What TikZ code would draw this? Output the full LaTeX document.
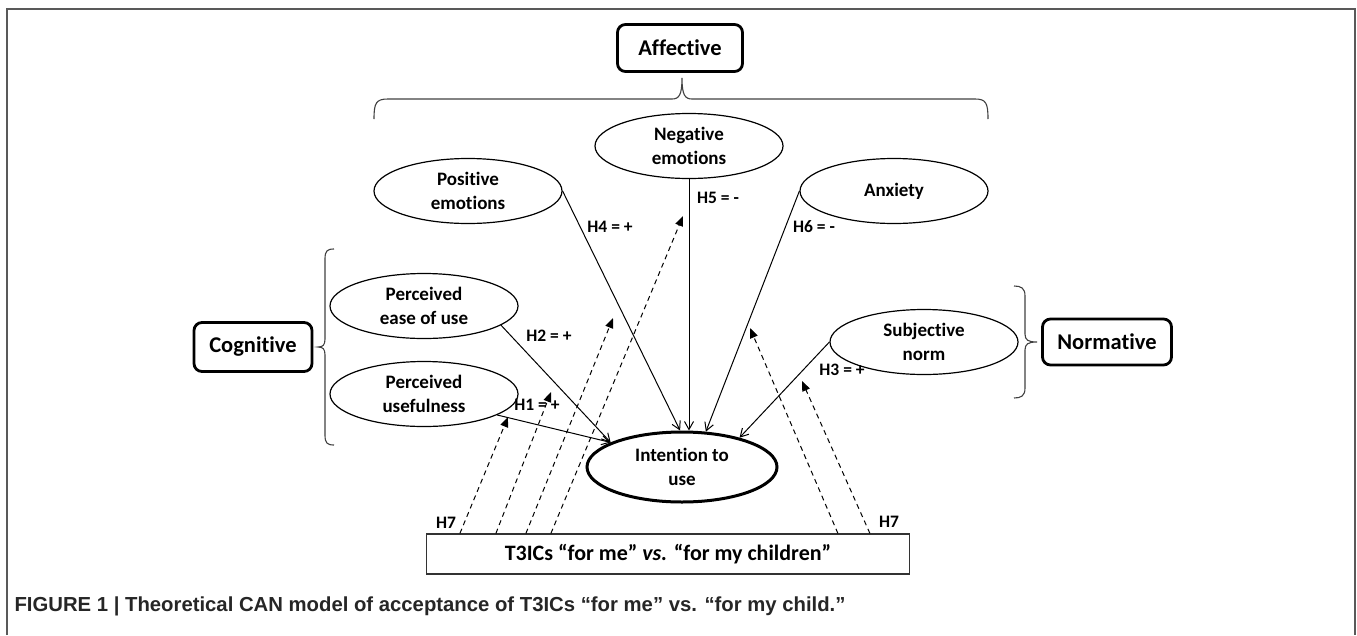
\documentclass[tikz,border=0pt]{standalone}
\usepackage{fontspec}
\setmainfont{Carlito}[Ligatures=NoCommon]
\newfontfamily\capfont{Liberation Sans}
\usetikzlibrary{arrows.meta,shapes.geometric}

\begin{document}
\begin{tikzpicture}[x=1pt,y=-1pt,
    construct/.style={draw,ellipse,line width=1.2pt,minimum width=188pt,minimum height=65pt,inner sep=0pt,align=center,font=\fontsize{19}{23.5}\selectfont\bfseries},
    groupbox/.style={draw,rounded corners=8pt,line width=2.8pt,inner sep=0pt,font=\fontsize{22.5}{26}\selectfont\bfseries},
    hyp/.style={font=\fontsize{17.5}{20}\selectfont\bfseries},
    effect/.style={line width=1pt,-{Straight Barb[length=8pt,width=9pt]}},
    moder/.style={line width=1pt,dash pattern=on 5pt off 4pt,-{Triangle[length=10pt,width=8pt]}},
    bracket/.style={line width=1.1pt,black!75}]
    \useasboundingbox (0,0) rectangle (1357,635);

    % Frame
    \draw[black!65,line width=1.5pt] (7,635) -- (7,9) -- (1355,9) -- (1355,635);

    % Groups
    \node[groupbox,minimum width=125pt,minimum height=47pt] (aff) at (680,48) {Affective};
    \node[groupbox,minimum width=118pt,minimum height=49pt] (cog) at (253,347) {Cognitive};
    \node[groupbox,minimum width=129pt,minimum height=46pt] (norm) at (1107,342) {Normative};

    % Braces
    \draw[bracket] (374,119) .. controls (374,103) and (376,99) .. (388,99) -- (672,99)
        .. controls (679,99) and (682,95) .. (682,78)
        .. controls (682,95) and (685,99) .. (692,99) -- (975,99)
        .. controls (986,99) and (988,103) .. (988,119);
    \draw[bracket] (334,249) .. controls (327,249) and (325,251) .. (325,259) -- (325,339)
        .. controls (325,345) and (323,347) .. (318,347)
        .. controls (323,347) and (325,349) .. (325,355) -- (325,435)
        .. controls (325,443) and (327,445) .. (334,445);
    \draw[bracket] (1014,286) .. controls (1021,286) and (1025,288) .. (1025,296) -- (1025,334)
        .. controls (1025,340) and (1028,342) .. (1037,342)
        .. controls (1028,342) and (1025,344) .. (1025,350) -- (1025,388)
        .. controls (1025,396) and (1021,398) .. (1014,398);

    % Constructs
    \node[construct] (neg) at (689,146) {Negative\\emotions};
    \node[construct] (pos) at (468,191) {Positive\\emotions};
    \node[construct] (anx) at (894,191) {Anxiety};
    \node[construct] (ease) at (424,306) {Perceived\\ease of use};
    \node[construct] (use) at (424,394) {Perceived\\usefulness};
    \node[construct] (subj) at (924,342) {Subjective\\norm};
    \node[construct,line width=3pt,minimum width=190pt,minimum height=70pt] (int) at (682,467) {Intention to\\use};

    % Condition
    \node[draw=black!80,line width=1.2pt,minimum width=483pt,minimum height=40pt,inner sep=0pt,
        font=\fontsize{22}{26}\selectfont\bfseries] (cond) at (668,554)
        {T3ICs “for me” \textit{vs.} “for my children”};

    % Effects
    \draw[effect] (use.-16) -- (int.161);
    \draw[effect] (ease.-14) -- (int.161);
    \draw[effect] (pos.east) -- (int.93);
    \draw[effect] (neg.south) -- (neg.south |- int.north);
    \draw[effect] (anx.west) -- (int.56);
    \draw[effect] (subj.west) -- (int.27);

    % Hypotheses
    \node[hyp] (h1) at (537,405) {H1 = +};
    \node[hyp] (h2) at (549,336) {H2 = +};
    \node[hyp] (h3) at (842,370) {H3 = +};
    \node[hyp] (h4) at (610,227) {H4 = +};
    \node[hyp] (h5) at (718,198) {H5 = -};
    \node[hyp] (h6) at (814,227) {H6 = -};
    \node[hyp] (h7a) at (446,523) {H7};
    \node[hyp] (h7b) at (889,522) {H7};

    % Moderation
    \coordinate (m1) at (508,417);
    \coordinate (m2) at (551,392);
    \coordinate (m3) at (613,318);
    \coordinate (m4) at (683,216);
    \coordinate (m5) at (750,328);
    \coordinate (m6) at (802,381);
    \foreach \i/\dx in {1/34,2/70,3/100,4/125,5/412,6/444}
        \path (cond.north west) ++(\dx,0) coordinate (d\i);
    \foreach \i in {1,...,6}
        \draw[moder] (d\i) -- (m\i);

    % Caption
    \node[anchor=west,black!85,font=\capfont\fontsize{20.3}{24}\selectfont\bfseries] (cap) at (11,606)
        {FIGURE 1 | Theoretical CAN model of acceptance of T3ICs “for me” vs. “for my child.”};
\end{tikzpicture}
\end{document}
